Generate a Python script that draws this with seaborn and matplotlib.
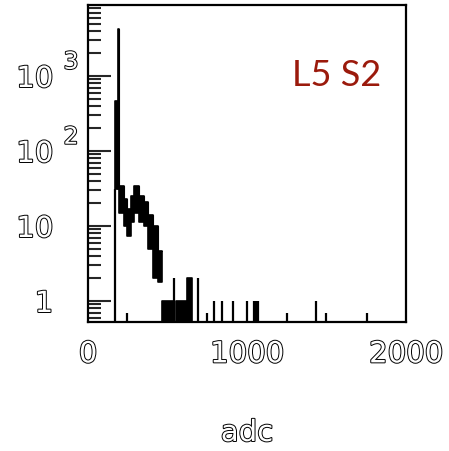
import matplotlib
matplotlib.use("Agg")
import matplotlib.pyplot as plt
import matplotlib.patheffects as pe
from matplotlib.transforms import blended_transform_factory
from matplotlib.ticker import FixedLocator, NullFormatter
import numpy as np
import pandas as pd
import seaborn as sns

# ---- data (adc bins, counts) ----
seg_left  = [172, 190, 198, 225, 248, 270, 292, 322, 352, 380, 410, 440, 465, 556, 622]
seg_right = [190, 198, 225, 248, 270, 292, 322, 352, 380, 410, 440, 465, 535, 622, 655]
seg_high  = [470, 4260, 34, 23, 16.9, 25, 34, 25, 21, 14, 10, 4.6, 1, 1, 2]
seg_low   = [31, 31, 15, 10, 7.4, 11.3, 15, 11.3, 10, 5, 2, 1.8, 0, 0, 0]

spike_x = [172, 245, 541, 694, 746, 795, 845, 914, 998, 1042, 1052, 1062, 1068, 1250, 1434, 1497, 1753]
spike_y = [31, 0.7, 2, 2, 0.7, 1, 1, 1, 1, 1, 1, 1, 1, 0.7, 1, 0.7, 0.7]

xticks = [0, 1000, 2000]
xticklabels = ["0", "1000", "2000"]
yticks = [1, 10, 100, 1000]
yticklabels = ["1", "10", "10", "10"]
ysup = {100: "2", 1000: "3"}

label_text = "L5 S2"
xlabel = "adc"

YMIN, YMAX = 0.52, 8850

sns.set_theme(style="white")
plt.rcParams["font.family"] = ["DejaVu Sans"]

fig = plt.figure(figsize=(4.49, 4.52), dpi=100)
ax = fig.add_axes([0.196, 0.2847, 0.708, 0.702])
ax.set_yscale("log")
ax.set_xlim(0, 2000)
ax.set_ylim(YMIN, YMAX)

df = pd.DataFrame({"l": seg_left, "r": seg_right, "hi": seg_high, "lo": seg_low})
for _, s in df.iterrows():
    lo = s.lo if s.lo > 0 else YMIN
    ax.fill_between([s.l, s.r], [lo, lo], [s.hi, s.hi], color="black",
                    edgecolor="black", linewidth=1.2, zorder=3)

# upper envelope outline (contiguous part only) with seaborn
cont = df[df.lo > 0]
env = pd.DataFrame({"x": list(cont.l) + [cont.r.iloc[-1]],
                    "y": list(cont.hi) + [cont.hi.iloc[-1]]})
sns.lineplot(data=env, x="x", y="y", drawstyle="steps-post", color="black",
             linewidth=0.8, ax=ax, zorder=4)

ax.vlines(spike_x, YMIN, spike_y, color="black", linewidth=1.6, zorder=3)

ax.set_xlabel("")
ax.set_ylabel("")

for sp in ax.spines.values():
    sp.set_linewidth(1.6)
    sp.set_color("black")
    sp.set_visible(True)

hollow = [pe.withStroke(linewidth=1.4, foreground="black")]

ax.set_xticks(xticks)
ax.set_xticklabels(xticklabels)
ax.tick_params(axis="x", length=0, pad=13, labelsize=21, labelcolor="white")
for t in ax.get_xticklabels():
    t.set_path_effects(hollow)

ax.yaxis.set_major_locator(FixedLocator(yticks))
ax.set_yticklabels(yticklabels)
minors = [m * 10.0 ** e for e in range(-1, 4) for m in range(2, 10)]
minors = [v for v in minors if YMIN < v < YMAX]
ax.yaxis.set_minor_locator(FixedLocator(minors))
ax.yaxis.set_minor_formatter(NullFormatter())
ax.tick_params(axis="y", which="major", direction="in", length=16.5, width=1.5,
               pad=25, labelsize=21, labelcolor="white", left=True)
ax.tick_params(axis="y", which="minor", direction="in", length=9, width=1.5, left=True)
for t in ax.get_yticklabels():
    t.set_path_effects(hollow)

tr = blended_transform_factory(ax.transAxes, ax.transData)
for v, s in ysup.items():
    ax.text(-0.077, v * 1.55, s, transform=tr, ha="left", va="center",
            fontsize=17, color="white", path_effects=hollow)

fig.text(247 / 449, 1 - 434 / 452, xlabel, ha="center", va="center",
         fontsize=21, color="white", path_effects=hollow)

fig.text(337 / 449, 1 - 75 / 452, label_text, ha="center", va="center",
         fontsize=26, color="#9b1a0c", family=["Lato", "DejaVu Sans"])

fig.savefig("out.png", dpi=100)
